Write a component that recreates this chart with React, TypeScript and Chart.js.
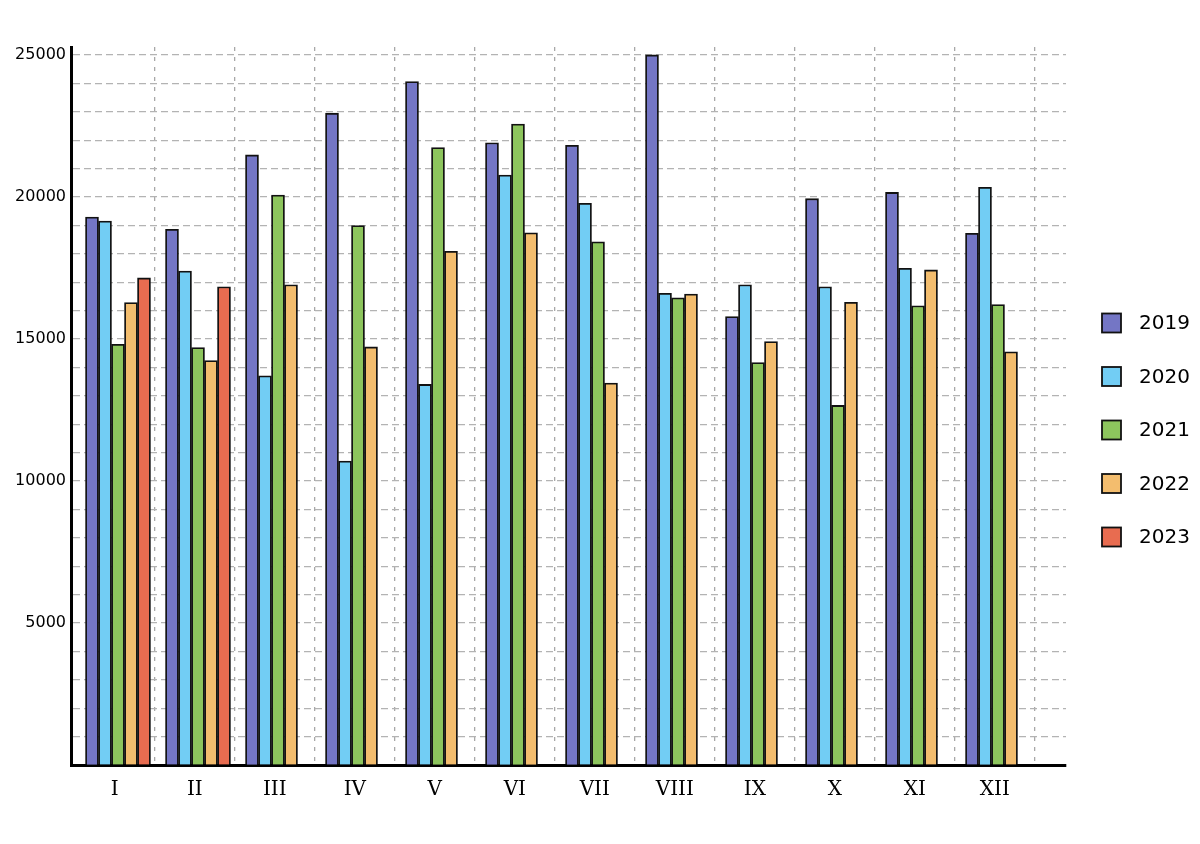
import React, { useEffect, useRef } from 'react';
import { Chart, registerables } from 'chart.js';

Chart.register(...registerables);

const months = ['I', 'II', 'III', 'IV', 'V', 'VI', 'VII', 'VIII', 'IX', 'X', 'XI', 'XII'];
const years = ['2019', '2020', '2021', '2022', '2023'];
const colors = ['#7476c5', '#72cdf4', '#8dc55d', '#f3bd6e', '#e86c50'];

const values2019 = [19290, 18860, 21480, 22950, 24060, 21910, 21820, 25000, 15790, 19940, 20160, 18720];
const values2020 = [19150, 17390, 13700, 10700, 13400, 20770, 19780, 16610, 16910, 16840, 17490, 20340];
const values2021 = [14810, 14700, 20070, 18990, 21740, 22570, 18420, 16450, 14170, 12660, 16170, 16210];
const values2022 = [16280, 14240, 16910, 14720, 18090, 18740, 13450, 16580, 14910, 16290, 17430, 14550];
const values2023 = [17150, 16840, null, null, null, null, null, null, null, null, null, null];

const series = [values2019, values2020, values2021, values2022, values2023];

// graduations de l'axe y : une ligne tous les 1000, libellé tous les 5000
const yTicks = Array.from({ length: 26 }, (_, i) => i * 1000);

// légende dessinée à la main (écart boîte / texte plus large que celui de Chart.js)
const sideLegend = {
  id: 'sideLegend',
  afterDraw(chart: Chart) {
    const { ctx, chartArea } = chart;
    ctx.save();
    ctx.font = '20px "DejaVu Sans"';
    ctx.textBaseline = 'middle';
    chart.data.datasets.forEach((ds, i) => {
      const x = chartArea.right + 36;
      const y = 315 + i * 53.5;
      ctx.fillStyle = ds.backgroundColor as string;
      ctx.fillRect(x, y - 9.5, 19, 19);
      ctx.lineWidth = 1.8;
      ctx.strokeStyle = '#111';
      ctx.strokeRect(x, y - 9.5, 19, 19);
      ctx.fillStyle = '#000';
      ctx.fillText(String(ds.label), x + 37, y + 1);
    });
    ctx.restore();
  },
};

export default function App() {
  const chartRef = useRef<HTMLCanvasElement>(null);
  const chartInstance = useRef<Chart | null>(null);

  useEffect(() => {
    if (!chartRef.current) return;
    if (chartInstance.current) chartInstance.current.destroy();

    const ctx = chartRef.current.getContext('2d');
    if (!ctx) return;

    // les barres sont centrées sur 1..12, grille et libellés un peu décalés
    const gridAt = months.map((_, i) => i + 1.455);
    const labelAt = months.map((_, i) => i + 0.96);

    chartInstance.current = new Chart(ctx, {
      type: 'bar',
      data: {
        datasets: series.map((vals, s) => ({
          label: years[s],
          data: vals.map((v, i) => ({ x: i + 1, y: v })),
          backgroundColor: colors[s],
          borderColor: '#111',
          borderWidth: 1.8,
          barThickness: 13,
        })),
      },
      plugins: [sideLegend],
      options: {
        animation: false,
        responsive: true,
        maintainAspectRatio: false,
        layout: { padding: { top: 39, right: 126, bottom: 0, left: 0 } },
        plugins: {
          tooltip: { enabled: false },
          legend: { display: false },
        },
        scales: {
          x: {
            type: 'linear',
            min: 0.4125,
            max: 12.85,
            offset: false,
            afterBuildTicks: (axis) => {
              axis.ticks = [...labelAt, ...gridAt]
                .sort((a, b) => a - b)
                .map((v) => ({ value: v }));
            },
            afterFit: (axis) => {
              axis.height = 71;
            },
            grid: {
              offset: false,
              drawTicks: false,
              color: (c) => {
                const v = c.tick ? c.tick.value : 0;
                return gridAt.some((g) => Math.abs(g - v) < 1e-6) ? '#a8a8a8' : 'rgba(0,0,0,0)';
              },
              lineWidth: 1.3,
            },
            border: { color: '#000', width: 3, dash: [4, 6] },
            ticks: {
              autoSkip: false,
              maxRotation: 0,
              padding: 13,
              color: '#000',
              font: { family: 'DejaVu Serif', size: 20 },
              callback: (value) => {
                const i = labelAt.findIndex((l) => Math.abs(l - Number(value)) < 1e-6);
                return i >= 0 ? months[i] : '';
              },
            },
          },
          y: {
            type: 'linear',
            min: 0,
            max: 25280,
            afterBuildTicks: (axis) => {
              axis.ticks = yTicks.map((v) => ({ value: v }));
            },
            afterFit: (axis) => {
              axis.width = 63;
            },
            grid: {
              drawTicks: false,
              color: '#b3b3b3',
              lineWidth: 1.2,
            },
            border: { color: '#000', width: 3, dash: [7, 4] },
            ticks: {
              autoSkip: false,
              padding: 5,
              color: '#000',
              font: { family: 'DejaVu Sans', size: 16 },
              callback: (value) => {
                const v = Number(value);
                return v > 0 && v % 5000 === 0 ? String(v) : '';
              },
            },
          },
        },
      },
    });

    return () => {
      if (chartInstance.current) {
        chartInstance.current.destroy();
        chartInstance.current = null;
      }
    };
  }, []);

  return (
    <div style={{ width: 1184, height: 828, position: 'relative' }}>
      <canvas ref={chartRef} />
    </div>
  );
}
